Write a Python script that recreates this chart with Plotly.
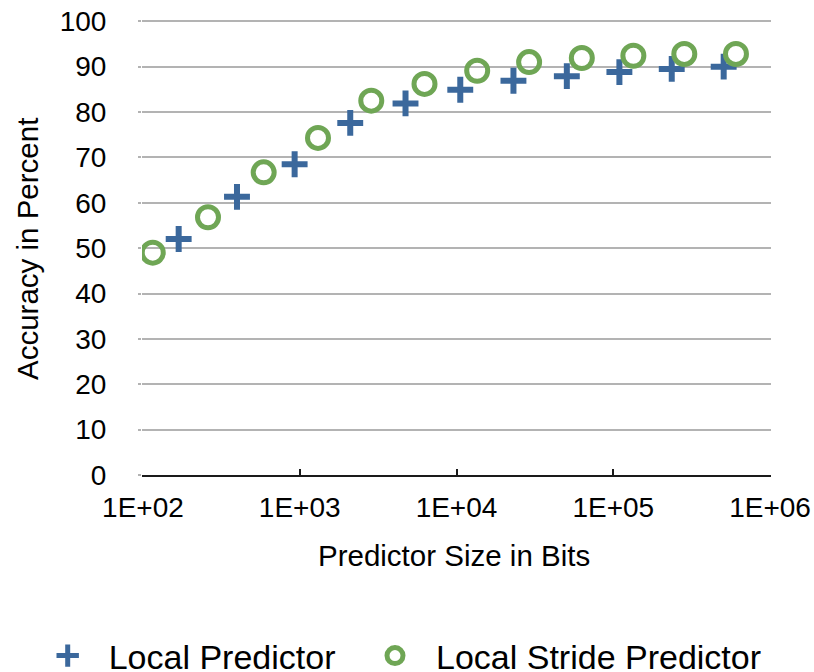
import plotly.graph_objects as go

# Data
local_bits = [169, 398, 928, 2100, 4730, 10570, 23080, 50550, 109400, 236000, 506000]
local_acc = [52.0, 61.3, 68.5, 77.6, 81.9, 84.9, 86.9, 87.9, 88.8, 89.5, 90.0]

stride_bits = [115.5, 260, 589, 1308, 2860, 6250, 13550, 29050, 63000, 134300, 283800, 606000]
stride_acc = [49.0, 56.8, 66.7, 74.3, 82.5, 86.2, 89.1, 91.0, 91.9, 92.4, 92.8, 92.8]

x_tickvals = [1e2, 1e3, 1e4, 1e5, 1e6]
x_ticktext = ["1E+02", "1E+03", "1E+04", "1E+05", "1E+06"]
y_tickvals = list(range(0, 101, 10))

FONT = "Liberation Sans, Arial, Helvetica, sans-serif"
BLUE = "#3B689C"
GREEN = "#6FA655"

L, R, T, B = 142, 43, 19, 197
PW = 814 - L - R
PH = 672 - T - B

fig = go.Figure()
fig.add_trace(go.Scatter(
    x=local_bits, y=local_acc, mode="markers", name="Local Predictor",
    marker=dict(symbol="cross-thin", size=18.5, color=BLUE,
                line=dict(color=BLUE, width=6)),
    legend="legend",
))
fig.add_trace(go.Scatter(
    x=stride_bits, y=stride_acc, mode="markers", name="Local Stride Predictor",
    marker=dict(symbol="circle-open", size=21, color=GREEN,
                line=dict(color=GREEN, width=5)),
    legend="legend2",
))

legend_common = dict(orientation="h", xref="paper", yref="paper",
                     y=-(656 - (672 - B)) / PH, xanchor="left", yanchor="middle",
                     font=dict(size=34, family=FONT), itemwidth=72,
                     bgcolor="rgba(0,0,0,0)")

fig.update_layout(
    width=814, height=672,
    margin=dict(l=L, r=R, t=T, b=B, pad=0, autoexpand=False),
    paper_bgcolor="white", plot_bgcolor="white",
    font=dict(family=FONT, color="black", size=28),
    showlegend=True,
    legend=dict(x=(26.7 - L) / PW, **legend_common),
    legend2=dict(x=(354 - L) / PW, **legend_common),
    xaxis=dict(type="log", range=[1.994, 6.006], tickvals=x_tickvals, ticktext=x_ticktext,
               showgrid=False, zeroline=False, showline=True, linecolor="#1a1a1a",
               linewidth=2, ticks="inside", ticklen=6, tickwidth=2, tickcolor="#1a1a1a",
               tickfont=dict(size=28), ticklabelstandoff=6),
    yaxis=dict(range=[0, 100.5], tickvals=y_tickvals, showgrid=True, gridcolor="#B3B3B3",
               gridwidth=2, zeroline=False, showline=False, ticks="outside", ticklen=3,
               tickwidth=2, tickcolor="#B3B3B3", tickfont=dict(size=28),
               ticklabelstandoff=26),
    annotations=[
        dict(text="Predictor Size in Bits", xref="paper", yref="paper",
             x=(454 - L) / PW, y=-(555 - (672 - B)) / PH, xanchor="center", yanchor="middle",
             showarrow=False, font=dict(size=29.5, family=FONT)),
        dict(text="Accuracy in Percent", xref="paper", yref="paper",
             x=-(L - 27) / PW, y=((672 - B) - 249) / PH, xanchor="center", yanchor="middle",
             textangle=-90, showarrow=False, font=dict(size=29.5, family=FONT)),
    ],
)

fig.write_html("out.html")
